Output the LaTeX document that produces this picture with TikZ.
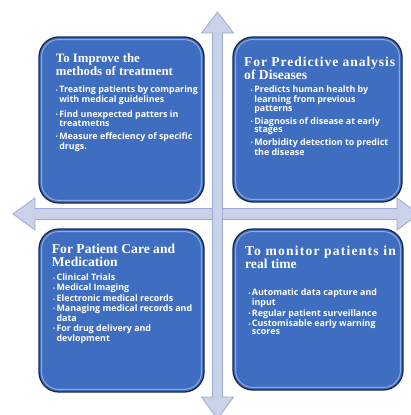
\documentclass[tikz,border=0pt]{standalone}
\usepackage{fontspec}
\setmainfont{Liberation Serif}
\newfontfamily\opensans{Open Sans}
\usetikzlibrary{positioning}

\definecolor{boxblue}{HTML}{3F6EC1}
\definecolor{boxline}{HTML}{1C2745}
\definecolor{shinecol}{HTML}{A9C4F2}
\definecolor{axisfill}{HTML}{CAD2EA}
\definecolor{axisline}{HTML}{9FAAD3}

\newcommand\bul{\makebox[3.4pt][l]{\raisebox{.6pt}{\fontsize{5}{5}\selectfont\textbullet}}}
\newcommand\ind{\hspace*{3.4pt}}
\newcommand\wide[2]{{\addfontfeature{LetterSpace=#1}#2}}

\tikzset{
  axis/.style={fill=axisfill,draw=axisline,line width=.8pt,line join=miter},
  panel/.style n args={2}{draw=boxline,line width=1.3pt,fill=boxblue,rounded corners=20pt,
    minimum width=#1,minimum height=#2,outer sep=0pt,inner sep=0pt},
  shine/.style={draw=shinecol,line width=1pt,opacity=.7,rounded corners=17pt},
  ttl/.style={text=white,align=left,inner sep=0pt,anchor=north west,
    font=\bfseries\fontsize{#1}{13}\selectfont},
  ttl/.default=13.6,
  pts/.style={text=white,align=left,inner sep=0pt,anchor=north west,
    font=\opensans\bfseries\fontsize{8.9}{#1}\selectfont},
  pts/.default=8.8
}

\begin{document}
\begin{tikzpicture}[x=1pt,y=-1pt]
  \path[use as bounding box,fill=white] (0,0) rectangle (410,415);

  \draw[axis] (13,214) -- (35,198) -- (35,208.5) -- (397,208.5) -- (397,198) -- (419,214)
    -- (397,230) -- (397,219.5) -- (35,219.5) -- (35,230) -- cycle;
  \draw[axis] (217.5,12) -- (233.5,33) -- (222.5,33) -- (222.5,397) -- (233.5,397) -- (217.5,419)
    -- (201.5,397) -- (212.5,397) -- (212.5,33) -- (201.5,33) -- cycle;

  \node[panel={165pt}{166pt}] (treat) at (121.5,120) {};
  \node[panel={169pt}{165pt}] (predict) at (317.5,119.5) {};
  \node[panel={165pt}{163pt}] (care) at (121.5,310.5) {};
  \node[panel={170pt}{161pt}] (monitor) at (318,309.5) {};
  \foreach \p in {treat,predict,care,monitor}
    \draw[shine] ([shift={(2.6,2.6)}]\p.north west) rectangle ([shift={(-2.6,-2.6)}]\p.south east);

  \node[ttl=12.8] (treat-t) at ([shift={(16.7,16)}]treat.north west) {To Improve the\\methods of treatment};
  \node[pts] (treat-p) at ([shift={(16.7,49)}]treat.north west)
    {\bul Treating patients by comparing\\\ind with medical guidelines\\[4.5pt]
     \bul Find unexpected patters in\\\ind treatmetns\\[4.5pt]
     \bul Measure effeciency of specific\\\ind drugs.};

  \node[ttl] (predict-t) at ([shift={(11,20)}]predict.north west) {\wide{6.7}{For Predictive analysis}\\of Diseases};
  \node[pts=8.3] (predict-p) at ([shift={(17.7,49)}]predict.north west)
    {\bul Predicts human health by\\\ind learning from previous\\\ind patterns\\[3pt]
     \bul Diagnosis of disease at early\\\ind stages\\[3pt]
     \bul Morbidity detection to predict\\\ind the disease};

  \node[ttl] (care-t) at ([shift={(12.7,15)}]care.north west) {For Patient Care and\\Medication};
  \node[pts=8.4] (care-p) at ([shift={(14,45)}]care.north west)
    {\bul Clinical Trials\\[1.3pt]
     \bul Medical Imaging\\[1.3pt]
     \bul Electronic medical records\\[1.3pt]
     \bul Managing medical records and\\\ind data\\[1.3pt]
     \bul For drug delivery and\\\ind devlopment};

  \node[ttl] (monitor-t) at ([shift={(12,16.6)}]monitor.north west) {\wide{8.8}{To monitor patients in}\\real time};
  \node[pts=7.8] (monitor-p) at ([shift={(15.3,60)}]monitor.north west)
    {\bul Automatic data capture and\\\ind input\\[0.6pt]
     \bul Regular patient surveillance\\[0.6pt]
     \bul Customisable early warning\\\ind scores};
\end{tikzpicture}
\end{document}
